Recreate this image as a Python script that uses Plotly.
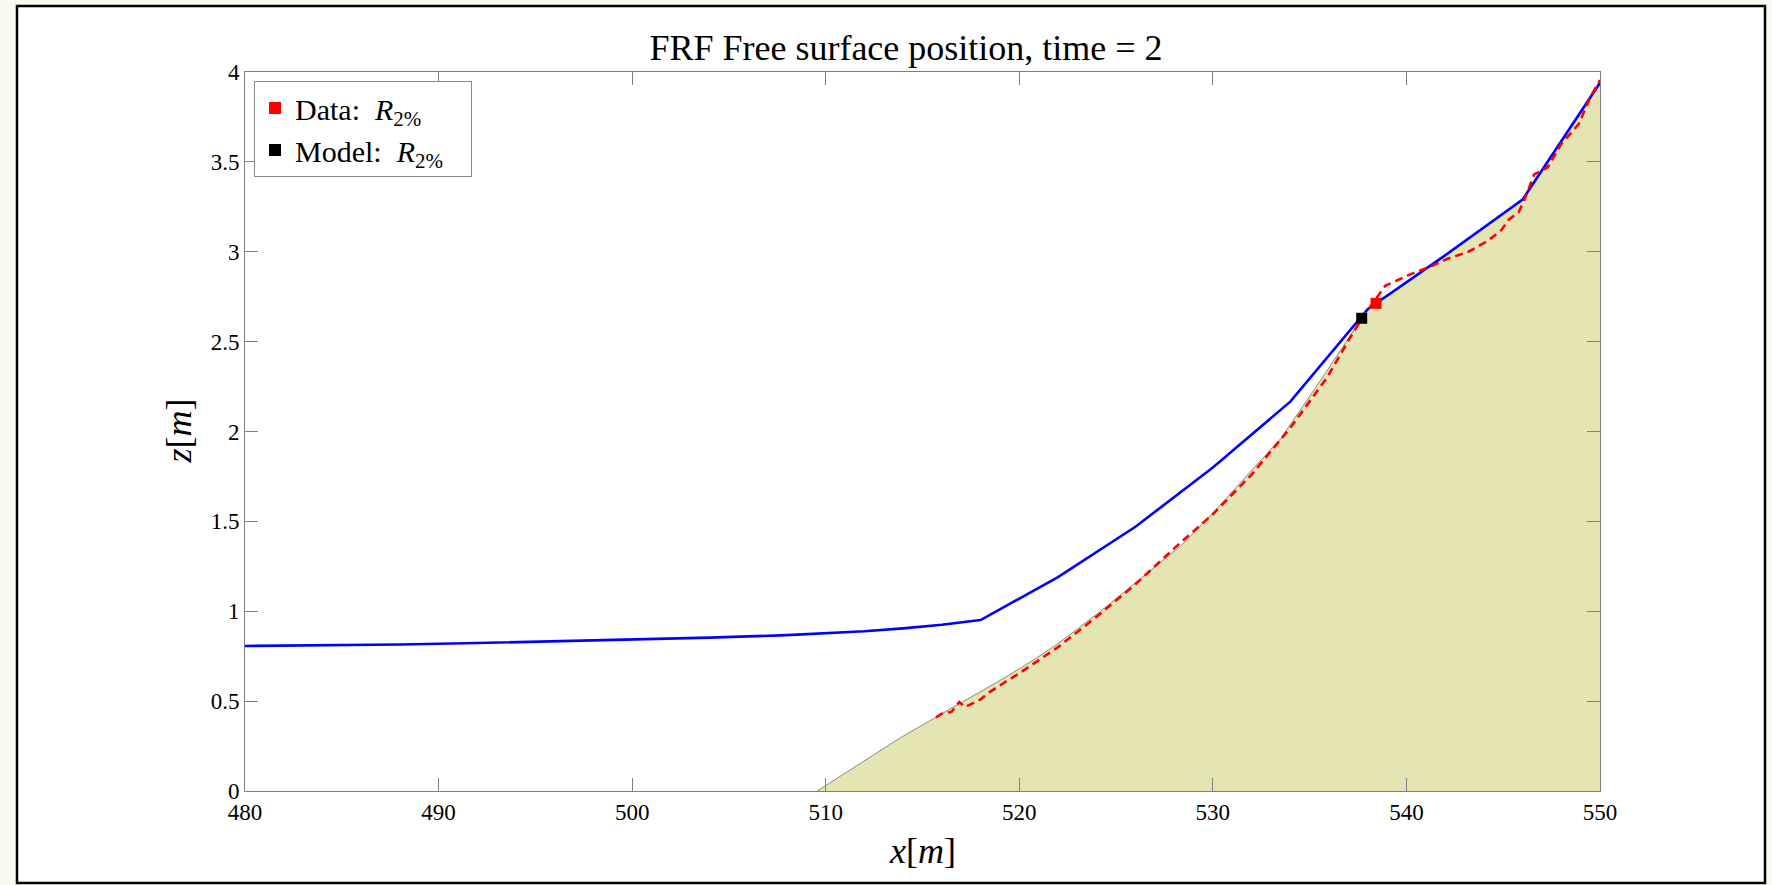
import plotly.graph_objects as go

# ---- data ----
sand_x = [509.56, 513.87, 516.1, 519.04, 520.75, 522.0, 524.2, 526.6, 528.4, 530.06,
          533.5, 535.6, 537.5, 537.8, 538.0, 542.0, 546.0, 550.0]
sand_z = [0.0, 0.297, 0.436, 0.617, 0.73, 0.82, 1.0, 1.21, 1.37, 1.554,
          1.96, 2.29, 2.60, 2.65, 2.68, 2.98, 3.29, 3.94]

model_x = [480, 484, 488, 492, 496, 500, 504, 508, 510, 512, 514, 516, 518,
           522, 526, 530, 534, 538, 542, 546, 550]
model_z = [0.807, 0.810, 0.815, 0.823, 0.832, 0.842, 0.853, 0.867, 0.876, 0.889,
           0.905, 0.925, 0.951, 1.19, 1.47, 1.80, 2.166, 2.68, 2.98, 3.29, 3.94]

data_x = [515.7, 516.0, 516.5, 516.9, 517.2, 517.6, 518.0, 518.4, 518.7, 520.0,
          522.0, 524.0, 526.0, 528.0, 530.0, 532.0, 534.0, 535.9, 537.3, 537.9,
          538.3, 538.6, 538.9, 540.1, 541.3, 542.1, 543.2, 544.2, 544.9, 545.3,
          545.8, 546.1, 546.4, 546.6, 547.3, 548.0, 548.9, 549.5, 550.0]
data_z = [0.41, 0.43, 0.44, 0.495, 0.467, 0.49, 0.51, 0.545, 0.567, 0.655,
          0.80, 0.97, 1.15, 1.35, 1.54, 1.76, 2.02, 2.30, 2.56, 2.66,
          2.72, 2.77, 2.81, 2.87, 2.92, 2.96, 3.00, 3.06, 3.12, 3.18,
          3.22, 3.29, 3.38, 3.43, 3.47, 3.60, 3.71, 3.86, 3.955]

r2_data_x, r2_data_z = [538.43], [2.713]
r2_model_x, r2_model_z = [537.69], [2.63]

x_ticks = [480, 490, 500, 510, 520, 530, 540, 550]
y_ticks = [0, 0.5, 1, 1.5, 2, 2.5, 3, 3.5, 4]
y_tick_text = ["0", "0.5", "1", "1.5", "2", "2.5", "3", "3.5", "4"]

FONT = "Liberation Serif"
AX = "#808080"

fig = go.Figure()
fig.add_trace(go.Scatter(x=sand_x, y=sand_z, mode="lines", fill="tozeroy",
                         fillcolor="rgb(229,229,179)",
                         line=dict(color="#6e6e6e", width=0.8),
                         showlegend=False, hoverinfo="skip"))
fig.add_trace(go.Scatter(x=model_x, y=model_z, mode="lines",
                         line=dict(color="#0000ff", width=2.6),
                         showlegend=False))
fig.add_trace(go.Scatter(x=data_x, y=data_z, mode="lines",
                         line=dict(color="#ff0000", width=2.6, dash="8px,5px"),
                         showlegend=False))
fig.add_trace(go.Scatter(x=r2_data_x, y=r2_data_z, mode="markers",
                         marker=dict(symbol="square", color="#ff0000", size=11),
                         name="Data:&nbsp; <i>R</i><sub>2%</sub>&nbsp;&nbsp;&nbsp;"))
fig.add_trace(go.Scatter(x=r2_model_x, y=r2_model_z, mode="markers",
                         marker=dict(symbol="square", color="#000000", size=11),
                         name="Model:&nbsp; <i>R</i><sub>2%</sub>&nbsp;&nbsp;&nbsp;"))

W, H = 1772, 885
L, R, T, B = 245, 1600, 72, 791
pw, ph = R - L, B - T

def px(xp):
    return (xp - L) / pw

def py(yp):
    return (B - yp) / ph

fig.update_layout(
    width=W, height=H,
    margin=dict(l=L, r=W - R, t=T, b=H - B),
    paper_bgcolor="#fafaf3",
    plot_bgcolor="white",
    font=dict(family=FONT, color="black", size=23),
    title=dict(text="FRF Free surface position, time = 2",
               x=px(906), xref="paper", y=1 - 47 / H, yref="container",
               xanchor="center", yanchor="middle",
               font=dict(family=FONT, size=36)),
    legend=dict(x=px(254), y=py(81), xanchor="left", yanchor="top",
                bgcolor="white", bordercolor="#8a8a8a", borderwidth=1,
                font=dict(family=FONT, size=30), tracegroupgap=0,
                itemsizing="constant"),
    xaxis=dict(range=[480, 550], tickvals=x_ticks, ticks="inside", ticklen=13,
               tickcolor=AX, showline=True, linecolor=AX, linewidth=1,
               mirror="allticks", showgrid=False, zeroline=False,
               tickfont=dict(family=FONT, size=23)),
    yaxis=dict(range=[0, 4], tickvals=y_ticks, ticktext=y_tick_text,
               ticks="inside", ticklen=13,
               tickcolor=AX, showline=True, linecolor=AX, linewidth=1,
               mirror="allticks", showgrid=False, zeroline=False,
               tickfont=dict(family=FONT, size=23)),
    shapes=[dict(type="rect", xref="paper", yref="paper",
                 x0=px(17), x1=px(1765), y0=py(883), y1=py(6),
                 line=dict(color="black", width=2.5), fillcolor="white",
                 layer="below")],
    annotations=[
        dict(text="<i>x</i>[<i>m</i>]", xref="paper", yref="paper",
             x=0.5, y=py(851), xanchor="center", yanchor="middle",
             showarrow=False, font=dict(family=FONT, size=36)),
        dict(text="<i>z</i>[<i>m</i>]", xref="paper", yref="paper",
             x=px(178), y=0.5, xanchor="center", yanchor="middle",
             textangle=-90, showarrow=False, font=dict(family=FONT, size=36)),
    ],
)

fig.write_html("out.html")
